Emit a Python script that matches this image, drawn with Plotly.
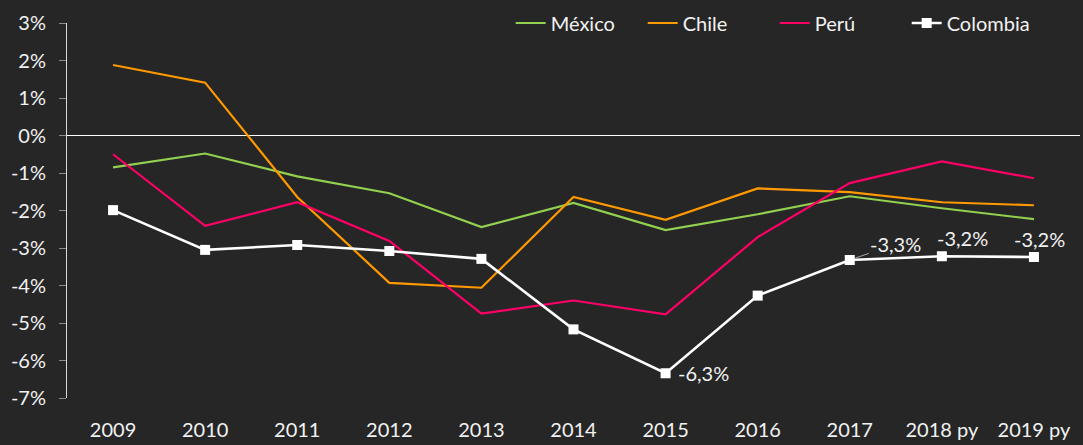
import plotly.graph_objects as go

years = ["2009", "2010", "2011", "2012", "2013", "2014", "2015", "2016", "2017", "2018 py", "2019 py"]
mexico = [-0.85, -0.48, -1.09, -1.54, -2.44, -1.80, -2.52, -2.10, -1.62, -1.94, -2.23]
chile = [1.88, 1.41, -1.64, -3.93, -4.06, -1.64, -2.25, -1.41, -1.51, -1.78, -1.86]
peru = [-0.50, -2.41, -1.78, -2.81, -4.75, -4.40, -4.77, -2.71, -1.27, -0.69, -1.14]
colombia = [-1.99, -3.05, -2.92, -3.08, -3.29, -5.17, -6.34, -4.27, -3.32, -3.22, -3.24]
y_ticks = [3, 2, 1, 0, -1, -2, -3, -4, -5, -6, -7]
y_ticklabels = ["3%", "2%", "1%", "0%", "-1%", "-2%", "-3%", "-4%", "-5%", "-6%", "-7%"]

FONT = "Lato"
FS = 20
BG = "#262626"
TXT = "#f2f2f2"

fig = go.Figure()
fig.add_trace(go.Scatter(x=years, y=mexico, name="México", mode="lines",
                         line=dict(color="#92d050", width=2.2)))
fig.add_trace(go.Scatter(x=years, y=chile, name="Chile", mode="lines",
                         line=dict(color="#ff9900", width=2.2)))
fig.add_trace(go.Scatter(x=years, y=peru, name="Perú", mode="lines",
                         line=dict(color="#ff0066", width=2.2)))
fig.add_trace(go.Scatter(x=years, y=colombia, name="Colombia", mode="lines+markers",
                         line=dict(color="#ffffff", width=2.6),
                         marker=dict(symbol="square", size=10, color="#ffffff")))

def lab(v):
    return ("%.1f" % v).replace(".", ",") + "%"

# data labels on Colombia (x given as category index)
fig.add_annotation(x=6, y=colombia[6], text=lab(colombia[6]), showarrow=False,
                   xanchor="left", xshift=10, font=dict(family=FONT, size=FS, color=TXT))
fig.add_annotation(x=8, y=colombia[8], text=lab(colombia[8]), showarrow=True,
                   arrowhead=0, arrowwidth=1, arrowcolor="#a6a6a6", ax=46, ay=-16,
                   xanchor="center", standoff=6, font=dict(family=FONT, size=FS, color=TXT))
for i, xs in ((9, 21), (10, 6)):
    fig.add_annotation(x=i, y=colombia[i], text=lab(colombia[i]), showarrow=False,
                       yanchor="bottom", yshift=4, xshift=xs,
                       font=dict(family=FONT, size=FS, color=TXT))

fig.update_layout(
    width=1083, height=445,
    paper_bgcolor=BG, plot_bgcolor=BG,
    margin=dict(l=67, r=3, t=21, b=47),
    font=dict(family=FONT, size=FS, color=TXT),
    showlegend=True,
    legend=dict(orientation="h", x=0.438, xanchor="left", y=1.052, yanchor="top",
                bgcolor="rgba(0,0,0,0)", font=dict(family=FONT, size=FS, color=TXT),
                tracegroupgap=0, entrywidth=87, entrywidthmode="pixels"),
    xaxis=dict(type="category", range=[-0.5, 10.5], showgrid=False, showline=False,
               ticks="", tickfont=dict(family=FONT, size=FS, color=TXT),
               ticklabelstandoff=18, zeroline=False, tickangle=0),
    yaxis=dict(range=[-7, 3], tickvals=y_ticks, ticktext=y_ticklabels,
               showgrid=False, zeroline=True, zerolinecolor="#ffffff", zerolinewidth=1.2,
               showline=True, linecolor="#d9d9d9", linewidth=1,
               ticks="outside", ticklen=7, tickcolor="#8c8c8c", ticklabelstandoff=9,
               tickfont=dict(family=FONT, size=FS, color=TXT)),
)

fig.write_html("out.html", config={"displayModeBar": False},
               post_script="document.body.style.margin='0';document.body.style.overflow='hidden';")
